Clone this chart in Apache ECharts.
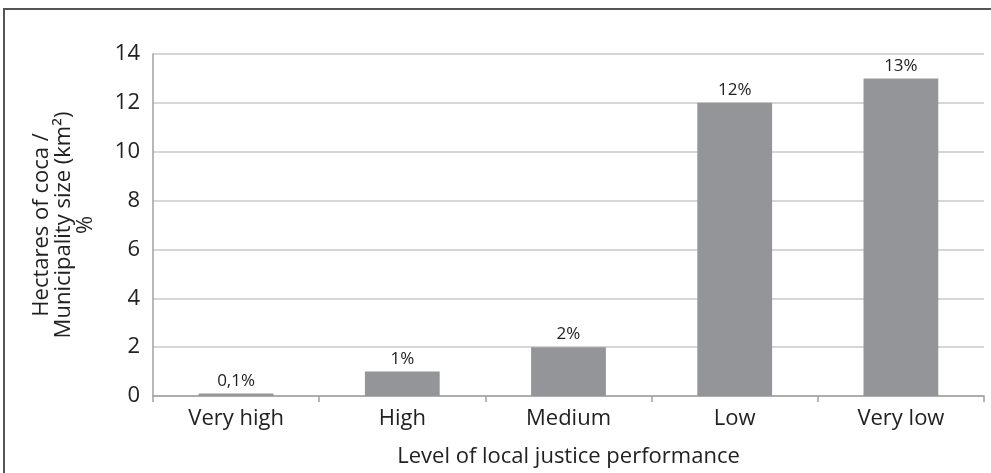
<!DOCTYPE html>
<html>
<head>
<meta charset="utf-8">
<script src="https://cdn.jsdelivr.net/npm/echarts@6/dist/echarts.min.js"></script>
<style>
  html, body { margin: 0; padding: 0; background: #fff; }
  #chart { width: 991px; height: 473px; }
</style>
</head>
<body>
<div id="chart"></div>
<script>
// Coca density by level of local justice performance
const categories = ['Very high', 'High', 'Medium', 'Low', 'Very low'];
const values = [0.1, 1, 2, 12, 13];
const valueLabels = ['0,1%', '1%', '2%', '12%', '13%'];
const yTicks = [0, 2, 4, 6, 8, 10, 12, 14];

const FONT = '"Open Sans", Lato, sans-serif';
const chart = echarts.init(document.getElementById('chart'), null, { renderer: 'canvas' });

chart.setOption({
  animation: false,
  backgroundColor: '#fff',
  textStyle: { fontFamily: FONT },
  graphic: [{
    type: 'rect',
    shape: { x: 4, y: 9, width: 1000, height: 500 },
    style: { fill: 'none', stroke: '#555', lineWidth: 2 },
    silent: true
  }],
  grid: { left: 153, right: 7, top: 54, bottom: 76 },
  xAxis: {
    type: 'category',
    data: categories,
    name: 'Level of local justice performance',
    nameLocation: 'middle',
    nameGap: 50,
    nameTextStyle: { fontSize: 22, color: '#222', fontFamily: FONT },
    axisLine: { lineStyle: { color: '#a0a0a0', width: 1.5 } },
    axisTick: { show: true, length: 6, lineStyle: { color: '#a0a0a0', width: 1.5 } },
    axisLabel: { fontSize: 22, color: '#222', margin: 12, fontFamily: FONT }
  },
  yAxis: {
    type: 'value',
    min: yTicks[0],
    max: yTicks[yTicks.length - 1],
    interval: 2,
    name: 'Hectares of coca /\nMunicipality size (km²)\n%',
    nameLocation: 'middle',
    nameRotate: 90,
    nameGap: 56,
    nameTextStyle: { fontSize: 22, color: '#222', lineHeight: 22, fontFamily: FONT },
    axisLine: { show: true, lineStyle: { color: '#a0a0a0', width: 1.5 } },
    axisTick: { show: false },
    axisLabel: { fontSize: 22, color: '#222', margin: 13, fontFamily: FONT },
    splitLine: { show: true, lineStyle: { color: '#c8c8c8', width: 1.5 } }
  },
  series: [{
    type: 'bar',
    data: values,
    barWidth: '45%',
    itemStyle: { color: '#939598' },
    label: {
      show: true,
      position: 'top',
      distance: 4,
      fontSize: 17,
      color: '#222',
      fontFamily: FONT,
      formatter: p => valueLabels[p.dataIndex]
    }
  }]
});
</script>
</body>
</html>
